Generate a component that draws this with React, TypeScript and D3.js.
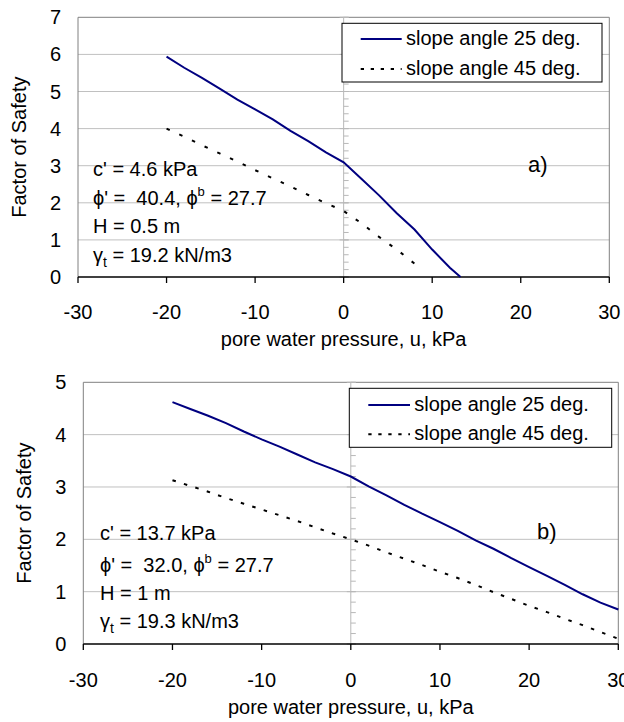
import React from 'react';
import * as d3 from 'd3';

// ---------- data ----------
const xTicks = [-30, -20, -10, 0, 10, 20, 30];
const yTicksA = [0, 1, 2, 3, 4, 5, 6, 7];
const yTicksB = [0, 1, 2, 3, 4, 5];
const legendLabels = ['slope angle 25 deg.', 'slope angle 45 deg.'];

const uA25 = [-20, -18, -16, -14, -12, -10, -8, -6, -4, -2, 0, 2, 4, 6, 8, 10, 12, 13.2];
const fsA25 = [5.94, 5.64, 5.37, 5.08, 4.78, 4.52, 4.25, 3.94, 3.66, 3.36, 3.09, 2.65, 2.2, 1.72, 1.28, 0.74, 0.25, 0];
const uA45 = [-20, -18, -16, -14, -12, -10, -8, -6, -4, -2, 0, 2, 4, 6, 8, 8.4];
const fsA45 = [4.0, 3.78, 3.55, 3.33, 3.11, 2.88, 2.66, 2.44, 2.21, 1.99, 1.78, 1.45, 1.08, 0.74, 0.36, 0.29];

const uB25 = [-20, -18, -16, -14, -12, -10, -8, -6, -4, -2, 0, 2, 4, 6, 8, 10, 12, 14, 16, 18, 20, 22, 24, 26, 28, 30];
const fsB25 = [4.62, 4.49, 4.36, 4.22, 4.06, 3.91, 3.77, 3.62, 3.47, 3.34, 3.2, 3.01, 2.84, 2.66, 2.49, 2.33, 2.16, 1.98, 1.82, 1.64, 1.47, 1.3, 1.13, 0.95, 0.79, 0.66];
const uB45 = [-20, -18, -16, -14, -12, -10, -8, -6, -4, -2, 0, 2, 4, 6, 8, 10, 12, 14, 16, 18, 20, 22, 24, 26, 28, 30];
const fsB45 = [3.13, 3.02, 2.91, 2.79, 2.68, 2.57, 2.46, 2.35, 2.23, 2.11, 2.0, 1.88, 1.75, 1.63, 1.51, 1.38, 1.26, 1.13, 0.99, 0.86, 0.73, 0.61, 0.48, 0.36, 0.23, 0.1];

const paramsA = { c: "c' = 4.6 kPa", phi: '40.4', phib: '27.7', H: 'H = 0.5 m', gamma: '19.2 kN/m3' };
const paramsB = { c: "c' = 13.7 kPa", phi: '32.0', phib: '27.7', H: 'H = 1 m', gamma: '19.3 kN/m3' };

const FONT = "'Liberation Sans', Arial, 'DejaVu Sans', sans-serif";
const BLUE = '#000080';

type PanelProps = {
  left: number; right: number; top: number; bottom: number; yMax: number; yTicks: number[];
  u25: number[]; fs25: number[]; u45: number[]; fs45: number[]; dash: string;
  legend: { x0: number; y0: number; x1: number; y1: number; lx0: number; lx1: number; tx: number; r1: number; r2: number };
  ann: { x: number; ys: number[] }; params: typeof paramsA;
  tag: string; tagX: number; tagY: number; yTitleX: number; tickBase: number; titleBase: number;
};

function Panel(p: PanelProps) {
  const x = d3.scaleLinear().domain([-30, 30]).range([p.left, p.right]);
  const y = d3.scaleLinear().domain([0, p.yMax]).range([p.bottom, p.top]);
  const line = d3.line<[number, number]>().x(d => x(d[0])).y(d => y(d[1]));
  const d25 = line(p.u25.map((u, i) => [u, p.fs25[i]] as [number, number])) || '';
  const d45 = line(p.u45.map((u, i) => [u, p.fs45[i]] as [number, number])) || '';
  const minor = d3.range(0, p.yMax * 5 + 1).map(i => i / 5);
  const x0 = x(0);
  const cy = (p.top + p.bottom) / 2;
  const cx = (p.left + p.right) / 2;
  return (
    <g fontFamily={FONT} fill="#000">
      {p.yTicks.filter(t => t > 0 && t < p.yMax).map(t => (
        <line key={'g' + t} x1={p.left} x2={p.right} y1={y(t)} y2={y(t)} stroke="#c0c0c0" strokeWidth={1} />
      ))}
      <path d={`M${p.left},${p.bottom}V${p.top}H${p.right}V${p.bottom}`} fill="none" stroke="#808080" strokeWidth={1} />
      <line x1={x0} x2={x0} y1={p.top} y2={p.bottom} stroke="#b8b8b8" strokeWidth={1} />
      {minor.map(t => (
        <line key={'m' + t} x1={x0} x2={x0 + 5} y1={y(t)} y2={y(t)} stroke="#b8b8b8" strokeWidth={1} />
      ))}
      {p.yTicks.map(t => (
        <line key={'M' + t} x1={x0 - 4} x2={x0 + 5} y1={y(t)} y2={y(t)} stroke="#b8b8b8" strokeWidth={1} />
      ))}
      <line x1={p.left} x2={p.right} y1={p.bottom} y2={p.bottom} stroke="#000" strokeWidth={1.3} />
      {xTicks.map(t => (
        <line key={'xt' + t} x1={x(t)} x2={x(t)} y1={p.bottom} y2={p.bottom + 6} stroke="#000" strokeWidth={1.3} />
      ))}
      {xTicks.map(t => (
        <text key={'xl' + t} x={x(t)} y={p.tickBase} fontSize={20} textAnchor="middle">{t}</text>
      ))}
      {p.yTicks.map(t => (
        <text key={'yl' + t} x={p.left - 17} y={y(t) + 7} fontSize={20} textAnchor="end">{t}</text>
      ))}
      <text x={cx} y={p.titleBase} fontSize={20} textAnchor="middle">pore water pressure, u, kPa</text>
      <text transform={`translate(${p.yTitleX},${cy}) rotate(-90)`} fontSize={20} textAnchor="middle">Factor of Safety</text>

      <path d={d25} fill="none" stroke={BLUE} strokeWidth={2} />
      <path d={d45} fill="none" stroke="#000" strokeWidth={2} strokeDasharray={p.dash} />

      <rect x={p.legend.x0} y={p.legend.y0} width={p.legend.x1 - p.legend.x0} height={p.legend.y1 - p.legend.y0} fill="#fff" stroke="#000" strokeWidth={1} />
      <line x1={p.legend.lx0} x2={p.legend.lx1} y1={p.legend.r1} y2={p.legend.r1} stroke={BLUE} strokeWidth={2} />
      <line x1={p.legend.lx0} x2={p.legend.lx1} y1={p.legend.r2} y2={p.legend.r2} stroke="#000" strokeWidth={2} strokeDasharray="3.3,6.7" />
      <text x={p.legend.tx} y={p.legend.r1 + 6} fontSize={20}>{legendLabels[0]}</text>
      <text x={p.legend.tx} y={p.legend.r2 + 6} fontSize={20}>{legendLabels[1]}</text>

      <text x={p.ann.x} y={p.ann.ys[0]} fontSize={20}>{p.params.c}</text>
      <text x={p.ann.x} y={p.ann.ys[1]} fontSize={20} style={{ whiteSpace: 'pre' }}>
        {'\u03D5\' =  ' + p.params.phi + ', \u03D5'}
        <tspan fontSize={13} dy={-9}>b</tspan>
        <tspan dy={9}>{' = ' + p.params.phib}</tspan>
      </text>
      <text x={p.ann.x} y={p.ann.ys[2]} fontSize={20}>{p.params.H}</text>
      <text x={p.ann.x} y={p.ann.ys[3]} fontSize={20}>
        {'\u03B3'}
        <tspan fontSize={14} dy={5}>t</tspan>
        <tspan dy={-5}>{' = ' + p.params.gamma}</tspan>
      </text>
      <text x={p.tagX} y={p.tagY} fontSize={22}>{p.tag}</text>
    </g>
  );
}

export default function App() {
  return (
    <svg width={624} height={722} style={{ position: 'absolute', left: 0, top: 0, background: '#fff' }}>
      <rect x={0} y={0} width={624} height={722} fill="#fff" />
      <Panel left={78} right={609.3} top={17.3} bottom={277} yMax={7} yTicks={yTicksA}
        u25={uA25} fs25={fsA25} u45={uA45} fs45={fsA45} dash="3.5,10.5"
        legend={{ x0: 342, y0: 23.3, x1: 602, y1: 82, lx0: 360.7, lx1: 401.7, tx: 406, r1: 39, r2: 69 }}
        ann={{ x: 93, ys: [176, 205, 233, 262] }} params={paramsA}
        tag="a)" tagX={528} tagY={172} yTitleX={26} tickBase={319} titleBase={346} />
      <Panel left={83.3} right={618.3} top={382.3} bottom={644} yMax={5} yTicks={yTicksB}
        u25={uB25} fs25={fsB25} u45={uB45} fs45={fsB45} dash="3.5,8.5"
        legend={{ x0: 349.3, y0: 388.3, x1: 611.7, y1: 447.3, lx0: 368.3, lx1: 410, tx: 414.3, r1: 405, r2: 434.3 }}
        ann={{ x: 100, ys: [540, 572, 600, 628] }} params={paramsB}
        tag="b)" tagX={537} tagY={539} yTitleX={31} tickBase={687} titleBase={714} />
    </svg>
  );
}
